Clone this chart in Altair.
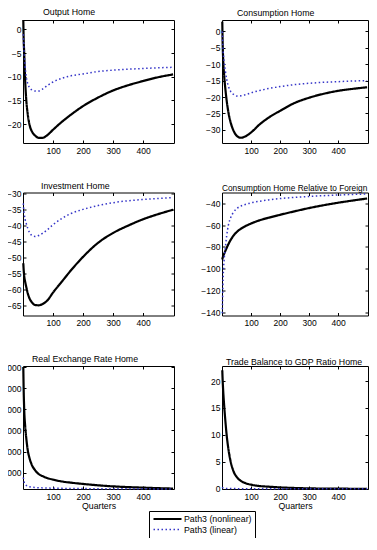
import altair as alt
import pandas as pd

NL = "Path3 (nonlinear)"
LIN = "Path3 (linear)"

Q = [1, 2, 4, 7, 11, 16, 22, 30, 40, 52, 65, 80, 100, 130, 160, 200, 250, 300, 350, 400, 450, 500]
X_TICKS = [100, 200, 300, 400]

output_nl = [2.0, -1.5, -5.0, -10.5, -15.0, -18.0, -20.2, -21.6, -22.4, -22.9, -22.9, -22.4, -21.2, -19.5, -18.0, -16.2, -14.4, -12.9, -11.8, -10.9, -10.1, -9.5]
output_lin = [-1.0, -2.5, -5.0, -7.8, -10.0, -11.5, -12.3, -12.8, -13.0, -13.0, -12.6, -11.9, -11.1, -10.3, -9.8, -9.4, -8.9, -8.6, -8.4, -8.25, -8.1, -8.0]

cons_nl = [3.0, -2.5, -8.5, -13.0, -17.0, -21.0, -24.6, -27.8, -30.3, -31.9, -32.4, -32.0, -30.8, -28.3, -26.3, -24.2, -21.8, -20.2, -19.0, -18.1, -17.5, -17.0]
cons_lin = [0.0, -2.5, -6.0, -9.0, -11.7, -14.5, -16.7, -18.3, -19.2, -19.7, -19.6, -19.3, -18.7, -18.0, -17.4, -16.8, -16.2, -15.8, -15.5, -15.3, -15.1, -15.0]

inv_nl = [-51.8, -53.5, -55.8, -57.5, -59.3, -61.3, -62.9, -64.1, -64.9, -65.0, -64.6, -63.6, -61.0, -57.5, -54.0, -49.8, -45.4, -42.3, -40.0, -38.0, -36.4, -35.0]
inv_lin = [-33.0, -34.5, -36.2, -38.0, -39.4, -40.9, -42.2, -43.1, -43.4, -43.1, -42.4, -41.4, -39.7, -37.7, -36.2, -34.9, -33.7, -32.8, -32.2, -31.8, -31.5, -31.2]

rel_nl = [-91.5, -90.3, -88.5, -86.5, -84.0, -81.0, -77.5, -73.5, -69.5, -66.0, -63.3, -61.0, -58.5, -55.5, -53.2, -50.5, -47.3, -44.3, -41.7, -39.4, -37.4, -35.5]
rel_lin = [-141.0, -128.0, -108.0, -93.0, -82.0, -70.0, -60.0, -53.0, -48.0, -44.5, -42.5, -41.0, -39.5, -38.0, -36.8, -35.6, -34.5, -33.6, -32.9, -32.3, -31.8, -31.3]

rer_nl = [12000, 10200, 8000, 6500, 5250, 4100, 3350, 2700, 2250, 1880, 1680, 1500, 1350, 1170, 1060, 940, 810, 710, 640, 590, 540, 500]
rer_lin = [1550, 1350, 1100, 920, 800, 720, 670, 630, 600, 580, 565, 550, 535, 520, 510, 500, 490, 485, 480, 475, 470, 468]

tb_nl = [22.0, 20.5, 18.3, 15.8, 13.0, 10.0, 7.4, 5.0, 3.2, 2.1, 1.45, 1.05, 0.75, 0.5, 0.38, 0.25, 0.14, 0.07, 0.03, 0.01, 0.0, 0.0]
tb_lin = [0.30, 0.22, 0.15, 0.10, 0.07, 0.05, 0.04, 0.03, 0.02, 0.02, 0.01, 0.01, 0.01, 0.0, 0.0, 0.0, 0.0, 0.0, 0.0, 0.0, 0.0, 0.0]

# title, dx, title size, series, y domain, y ticks, x title, width
PANELS = [
    ("Output Home", 20, 8.75, output_nl, output_lin, [-24, 2], [-20, -15, -10, -5, 0], None, 151),
    ("Consumption Home", 15, 8.75, cons_nl, cons_lin, [-34, 3.5], [-30, -25, -20, -15, -10, -5, 0], None, 146),
    ("Investment Home", 18, 8.75, inv_nl, inv_lin, [-68.2, -29.6], [-65, -60, -55, -50, -45, -40, -35, -30], None, 151),
    ("Consumption Home Relative to Foreign", 0, 8.3, rel_nl, rel_lin, [-143, -30], [-140, -120, -100, -80, -60, -40], None, 146),
    ("Real Exchange Rate Home", 9, 8.75, rer_nl, rer_lin, [460, 12100], [2000, 4000, 6000, 8000, 10000, 12000], "Quarters", 151),
    ("Trade Balance to GDP Ratio Home", 4, 8.75, tb_nl, tb_lin, [-0.05, 22.8], [0, 5, 10, 15, 20], "Quarters", 146),
]

FONT = "Liberation Sans"
H = 123

cscale = alt.Scale(domain=[NL, LIN], range=["#000000", "#3535c8"])
dscale = alt.Scale(domain=[NL, LIN], range=[[1, 0], [1.5, 2.5]])
wscale = alt.Scale(domain=[NL, LIN], range=[2.2, 1.5])
legend = alt.Legend(
    title=None, orient="none", legendX=126, legendY=491,
    symbolType="M-1,0H7", symbolSize=49, labelOffset=22,
    labelFont=FONT, labelFontSize=8.8, labelColor="black",
    strokeColor="black", fillColor="white", padding=3, rowPadding=1,
)


def panel(title, dx, tsize, nl, lin, ydom, yticks, xtitle, width):
    df = pd.DataFrame({
        "q": Q + Q,
        "v": nl + lin,
        "series": [NL] * len(Q) + [LIN] * len(Q),
    })
    xs = alt.Scale(domain=[0, 503], nice=False, zero=False)
    ys = alt.Scale(domain=ydom, nice=False, zero=False)
    xaxis_kw = dict(values=X_TICKS, orient="bottom", offset=-3, tickSize=3, labelPadding=3,
                    minExtent=13, maxExtent=13, labelFlush=False, labelOverlap=False)
    if xtitle:
        xaxis = alt.Axis(title=xtitle, titlePadding=2, **xaxis_kw)
    else:
        xaxis = alt.Axis(title=None, **xaxis_kw)
    yaxis = alt.Axis(values=yticks, title=None, orient="left", offset=-3, tickSize=3, labelPadding=2,
                     format="d", minExtent=18, maxExtent=18, labelOverlap=False)
    topaxis = alt.Axis(values=X_TICKS, title=None, orient="top", offset=-3, tickSize=3, labels=False,
                       minExtent=3, maxExtent=3)
    rightaxis = alt.Axis(values=yticks, title=None, orient="right", offset=-3, tickSize=3, labels=False,
                         minExtent=3, maxExtent=3)
    enc = dict(
        color=alt.Color("series:N", scale=cscale, legend=legend),
        strokeDash=alt.StrokeDash("series:N", scale=dscale, legend=legend),
        strokeWidth=alt.StrokeWidth("series:N", scale=wscale, legend=legend),
    )
    base = alt.Chart(df)
    l1 = base.transform_filter(alt.datum.series == NL).mark_line(interpolate="monotone").encode(
        x=alt.X("q:Q", scale=xs, axis=xaxis),
        y=alt.Y("v:Q", scale=ys, axis=yaxis),
        **enc,
    )
    l2 = base.transform_filter(alt.datum.series == LIN).mark_line(interpolate="monotone").encode(
        x=alt.X("q:Q", scale=xs, axis=None),
        y=alt.Y("v:Q", scale=ys, axis=None),
        **enc,
    )
    l3 = base.mark_point(opacity=0, size=0, strokeWidth=0).encode(
        x=alt.X("q:Q", scale=xs, axis=topaxis),
        y=alt.Y("v:Q", scale=ys, axis=rightaxis),
    )
    return alt.layer(l1, l2, l3).resolve_axis(x="independent", y="independent").properties(
        width=width, height=H,
        title=alt.TitleParams(title, anchor="start", frame="group", dx=dx, dy=5, offset=4,
                              font=FONT, fontSize=tsize, fontWeight="normal", color="black"),
    )


charts = [panel(*p) for p in PANELS]

chart = alt.concat(*charts, columns=2, spacing={"row": 26.5, "column": 22}, align="each").properties(
    autosize=alt.AutoSizeParams(type="none"),
    padding={"left": 15, "top": 12, "right": 346, "bottom": 518},
    background="white",
).configure_view(
    stroke="black", strokeWidth=1, fill="white",
).configure_axis(
    labelFont=FONT, labelFontSize=8.5, labelColor="black", tickColor="black",
    domain=False, grid=False, titleFont=FONT, titleFontSize=8.75, titleFontWeight="normal",
    titleColor="black",
)

chart.save("out.html", embed_options={"renderer": "svg", "actions": False})
